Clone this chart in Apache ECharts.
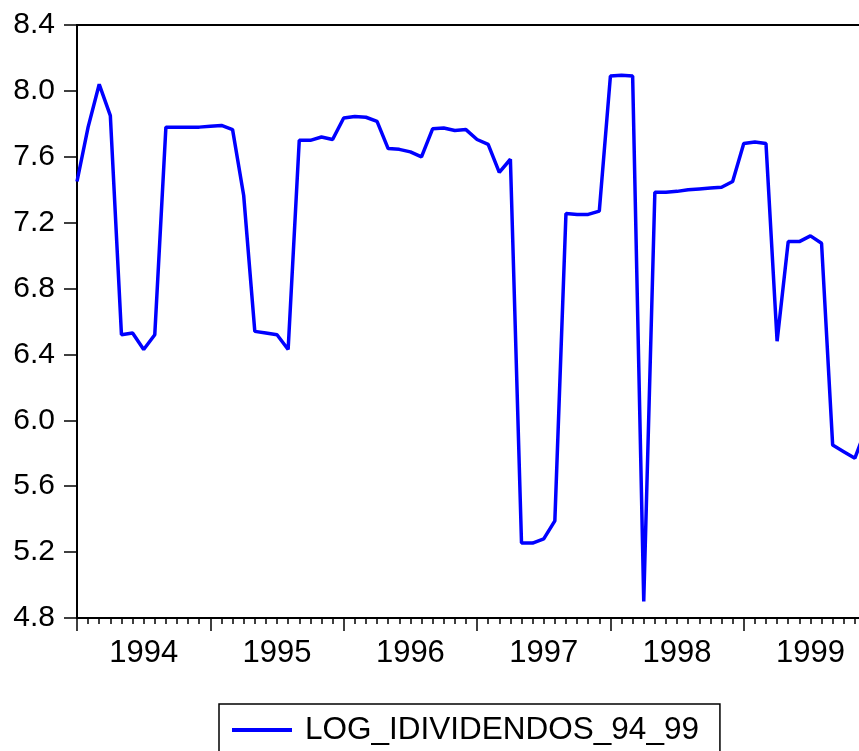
<!DOCTYPE html>
<html>
<head>
<meta charset="utf-8">
<title>LOG_IDIVIDENDOS_94_99</title>
<script src="https://cdn.jsdelivr.net/npm/echarts@6/dist/echarts.min.js"></script>
<style>
    html, body { margin: 0; padding: 0; background: #fff; }
    #chart { width: 859px; height: 751px; }
</style>
</head>
<body>
<div id="chart"></div>
<script>
// serie mensual 1994M01 - 1999M12
var years = ['1994', '1995', '1996', '1997', '1998', '1999'];
var seriesName = 'LOG_IDIVIDENDOS_94_99';
var logDividendos = [
    7.45, 7.78, 8.04, 7.85, 6.52, 6.53, 6.43, 6.52, 7.78, 7.78, 7.78, 7.78,
    7.785, 7.79, 7.765, 7.365, 6.54, 6.53, 6.52, 6.43, 7.70, 7.70, 7.72, 7.705,
    7.835, 7.845, 7.84, 7.815, 7.65, 7.645, 7.63, 7.60, 7.77, 7.775, 7.76, 7.765,
    7.705, 7.675, 7.505, 7.585, 5.255, 5.255, 5.28, 5.39, 7.255, 7.25, 7.25, 7.27,
    8.09, 8.095, 8.09, 4.90, 7.385, 7.385, 7.39, 7.40, 7.405, 7.41, 7.415, 7.45,
    7.68, 7.69, 7.68, 6.48, 7.085, 7.085, 7.12, 7.075, 5.85, 5.81, 5.77, 5.95
];
var yTicks = [4.8, 8.4, 0.4]; // min, max, paso

// categorias mensuales
var months = [];
years.forEach(function (y) {
    for (var m = 1; m <= 12; m++) {
        months.push(y + 'M' + (m < 10 ? '0' + m : m));
    }
});

var font = 'Liberation Sans, Arial, sans-serif';
var chart = echarts.init(document.getElementById('chart'));
var option = {
    animation: false,
    backgroundColor: '#fff',
    grid: {
        left: 77,
        top: 25,
        width: 789,   // el marco derecho queda fuera de la imagen
        height: 593,
        outerBoundsMode: 'none',
        show: true,
        borderColor: '#000',
        borderWidth: 2
    },
    legend: {
        left: 219,
        top: 704,
        padding: [10, 21, 10, 13],
        borderColor: '#000',
        borderWidth: 1.5,
        icon: 'rect',
        itemWidth: 60,
        itemHeight: 4,
        textStyle: {
            fontFamily: font,
            fontSize: 31.5,
            color: '#000',
            padding: [0, 0, 0, 8]
        },
        data: [seriesName]
    },
    xAxis: [
        {
            type: 'category',
            boundaryGap: false,
            data: months,
            axisLine: { lineStyle: { color: '#000', width: 2 } },
            axisTick: { interval: 0, length: 6, lineStyle: { color: '#000', width: 1.5 } },
            axisLabel: {
                interval: function (idx) { return idx % 12 === 6; },
                formatter: function (v) { return v.slice(0, 4); },
                fontFamily: font,
                fontSize: 31,
                color: '#000',
                margin: 20
            },
            splitLine: { show: false }
        },
        {
            // ticks largos de inicio de año
            type: 'category',
            boundaryGap: false,
            data: months,
            position: 'bottom',
            axisLine: { show: false },
            axisTick: {
                interval: function (idx) { return idx % 12 === 0; },
                length: 13,
                lineStyle: { color: '#000', width: 1.5 }
            },
            axisLabel: { show: false },
            splitLine: { show: false }
        }
    ],
    yAxis: {
        type: 'value',
        min: yTicks[0],
        max: yTicks[1],
        interval: yTicks[2],
        axisLine: { show: true, lineStyle: { color: '#000', width: 2 } },
        axisTick: { show: true, length: 13, lineStyle: { color: '#000', width: 1.5 } },
        axisLabel: {
            fontFamily: font,
            fontSize: 30,
            color: '#000',
            margin: 22,
            formatter: function (v) { return v.toFixed(1); }
        },
        splitLine: { show: false }
    },
    series: [
        {
            name: seriesName,
            type: 'line',
            xAxisIndex: 0,
            data: logDividendos,
            symbol: 'none',
            color: '#0000ff',
            lineStyle: { color: '#0000ff', width: 3.5 }
        }
    ]
};
chart.setOption(option);
</script>
</body>
</html>
